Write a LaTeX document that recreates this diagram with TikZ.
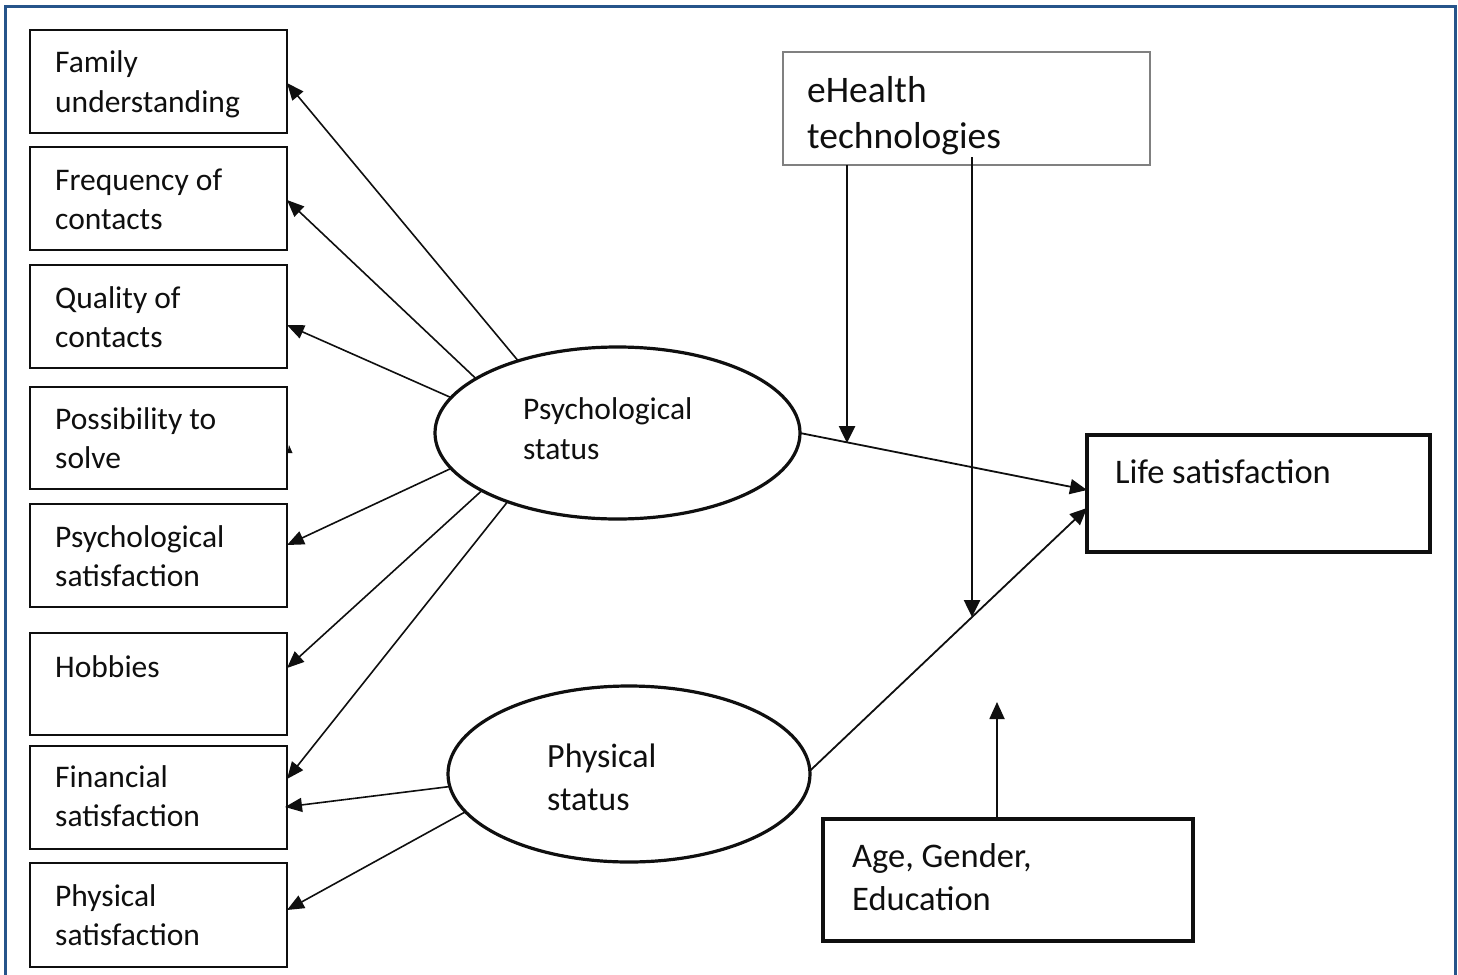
\documentclass[tikz,border=0pt]{standalone}
\usepackage{fontspec}
\setmainfont{Carlito}
\usetikzlibrary{arrows.meta,shapes.geometric,calc}
\newcommand\twol[2]{\begin{tabular}[t]{@{}l@{}}#1\\#2\end{tabular}}
\definecolor{frameblue}{RGB}{38,84,138}
\definecolor{ink}{RGB}{15,15,15}
\begin{document}
\begin{tikzpicture}[x=1pt,y=-1pt,
  lbox/.style={draw=ink, line width=2.2pt, minimum width=257pt, minimum height=103pt, anchor=north west, inner sep=0pt, outer sep=0pt},
  bbox/.style={draw=ink, line width=4pt, anchor=north west, inner sep=0pt, outer sep=0pt},
  ell/.style={draw=ink, ellipse, line width=3.2pt, inner sep=0pt, outer sep=0pt},
  txt/.style={anchor=base west, inner sep=0pt, text=ink, font=\fontsize{31.5}{39.5}\selectfont},
  arr/.style={-{Triangle[length=17pt,width=14pt]}, line width=1.6pt, draw=ink},
  arrb/.style={-{Triangle[length=17pt,width=15pt]}, line width=1.8pt, draw=ink},
  varr/.style={-{Triangle[length=17pt,width=16pt]}, line width=2.6pt, draw=ink}]
\useasboundingbox (0,0) rectangle (1458,974);
\fill[white] (0,0) rectangle (1458,974);
\draw[frameblue, line width=3pt] (5,980) -- (5,7) -- (1455,7) -- (1455,980);

% left boxes
\node[lbox] (fam) at (30,30) {};
\node[txt] (famt) at (55,73) {\twol{Family}{understanding}};
\node[lbox] (freq) at (30,147) {};
\node[txt] (freqt) at (55,190) {\twol{Frequency of}{contacts}};
\node[lbox] (qual) at (30,265) {};
\node[txt] (qualt) at (55,308) {\twol{Quality of}{contacts}};
\node[lbox, minimum height=102pt] (poss) at (30,387) {};
\node[txt] (posst) at (55,429) {\twol{Possibility to}{solve}};
\node[lbox] (psat) at (30,504) {};
\node[txt] (psatt) at (55,547) {\twol{Psychological}{satisfaction}};
\node[lbox, minimum height=102pt] (hob) at (30,633) {};
\node[txt] (hobt) at (55,677) {Hobbies};
\node[lbox] (fin) at (30,746) {};
\node[txt] (fint) at (55,787) {\twol{Financial}{satisfaction}};
\node[lbox, minimum height=104pt] (phsat) at (30,863) {};
\node[txt] (phsatt) at (55,906) {\twol{Physical}{satisfaction}};
\fill[ink] (289,445) -- (292.5,453) -- (287.5,453) -- cycle;

% ellipses
\node[ell, minimum width=365pt, minimum height=172pt] (psy) at (617.5,433) {};
\node[txt, font=\fontsize{31.5}{40}\selectfont] (psyt) at (523,419) {\twol{Psychological}{status}};
\node[ell, minimum width=362pt, minimum height=176pt] (phy) at (629,774) {};
\node[txt, font=\fontsize{34}{43}\selectfont] (phyt) at (547,767) {\twol{Physical}{status}};

% right boxes
\node[draw={rgb,255:red,128;green,128;blue,128}, line width=1.6pt, anchor=north west, inner sep=0pt, outer sep=0pt, minimum width=367pt, minimum height=113pt] (ehb) at (783,52) {};
\node[txt, font=\fontsize{37.5}{46}\selectfont] (ehbt) at (807,102) {\twol{eHealth}{technologies}};
\node[bbox, minimum width=343pt, minimum height=117pt] (life) at (1087,435) {};
\node[txt, font=\fontsize{34.5}{43}\selectfont] (lifet) at (1115,483) {Life satisfaction};
\node[bbox, minimum width=370pt, minimum height=122pt] (age) at (823,819) {};
\node[txt, font=\fontsize{34.5}{43}\selectfont] (aget) at (852,867) {\twol{Age, Gender,}{Education}};

% connectors to left boxes
\draw[arr] (psy.144.4) -- ([yshift=-53pt]fam.north east);
\draw[arr] (psy.159.2) -- ([yshift=-53pt]freq.north east);
\draw[arr] (psy.168.6) -- ([yshift=-60pt]qual.north east);
\draw[arr] (psy.192.3) -- ([yshift=-41pt]psat.north east);
\draw[arr] (psy.203.4) -- ([yshift=-35pt]hob.north east);
\draw[arr] (psy.212.2) -- ([yshift=-33pt]fin.north east);
\draw[arr] (phy.184) -- ([xshift=-2pt,yshift=-61pt]fin.north east);
\draw[arr] (phy.193) -- ([yshift=-47pt]phsat.north east);

% connectors to life satisfaction
\draw[arrb] (psy.0) -- ([yshift=3.5pt]life.west);
\draw[arrb] (phy.1) -- ([yshift=-14.5pt]life.west);

% moderators
\coordinate (m1) at (847,443);
\coordinate (m2) at (972,617);
\draw[varr] (ehb.south -| m1) -- (m1);
\draw[varr] ($(ehb.south -| m2)+(0,-8)$) -- (m2);
\coordinate (agetip) at (997,702);
\draw[arrb] (age.north -| agetip) -- (agetip);
\end{tikzpicture}
\end{document}
